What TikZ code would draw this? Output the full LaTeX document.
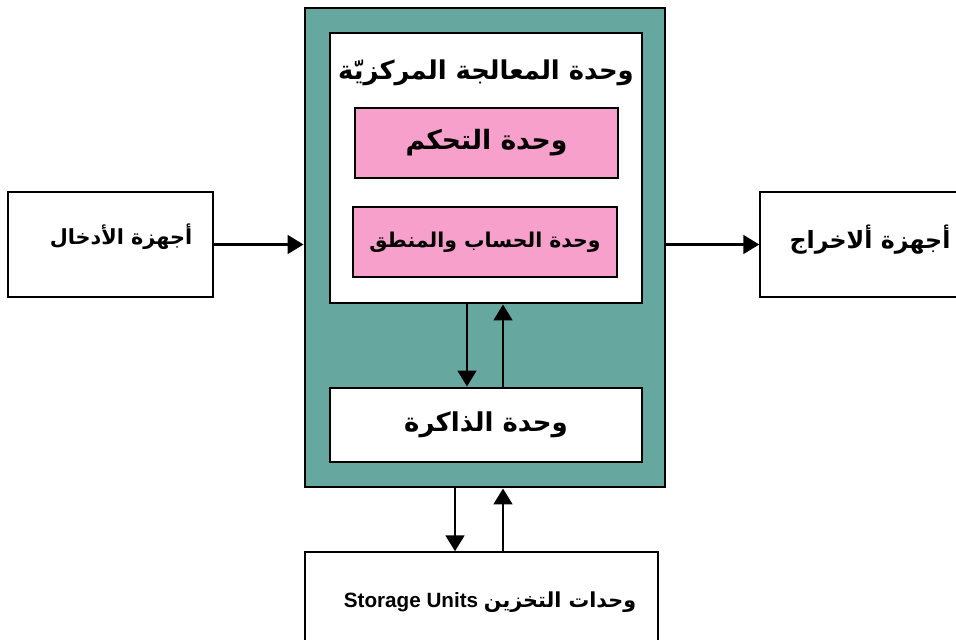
\documentclass[tikz,border=0pt]{standalone}
\usepackage{fontspec}
\usepackage{tikz}
\usetikzlibrary{arrows.meta}
\usetikzlibrary{positioning}
\setmainfont{Liberation Sans}
\newfontfamily\arabicfont[Script=Arabic]{DejaVu Sans}
\TeXXeTstate=1
\definecolor{cputeal}{RGB}{102,168,160}
\definecolor{unitpink}{RGB}{247,160,204}

\tikzset{
    thinbox/.style={draw, line width=1.1pt, fill=white, inner sep=0pt},
    thickbox/.style={draw, line width=2.2pt, inner sep=0pt},
    unitbox/.style={thickbox, line width=1.9pt, fill=unitpink, font=\arabicfont\bfseries\fontsize{20}{24}\selectfont},
    flow/.style={line width=2.2pt, -{Triangle[length=12pt,width=14pt]}}
}

\begin{document}
\begin{tikzpicture}[x=0.75pt,y=0.75pt,yscale=-1]
    \useasboundingbox (0,0) rectangle (956,639);
    \clip (0,0) rectangle (956,639);

    %Shape: Rectangle [outer teal box]
    \node (outer) [thickbox, fill=cputeal, minimum width=270pt, minimum height=359.25pt] at (485,247.5) {};
    %Shape: Rectangle [cpu]
    \node (cpu) [thickbox, fill=white, minimum width=234pt, minimum height=202.5pt] at (486,168) {};
    % Text Node
    \node (cputitle) [font=\arabicfont\bfseries\fontsize{19.4}{23}\selectfont] at (486,73) {\beginR وحدة المعالجة المركزيّة\endR};
    %Shape: Rectangle [control unit]
    \node (ctrl) [unitbox, minimum width=197.25pt, minimum height=52.5pt] at (486.5,143) {\beginR وحدة التحكم\endR};
    %Shape: Rectangle [alu]
    \node (alu) [unitbox, minimum width=198pt, minimum height=52.5pt, font=\arabicfont\bfseries\fontsize{15.3}{18}\selectfont] at (485,242) {\beginR وحدة الحساب والمنطق\endR};
    %Shape: Rectangle [memory]
    \node (mem) [thickbox, fill=white, minimum width=234pt, minimum height=55.5pt, font=\arabicfont\bfseries\fontsize{19.5}{23}\selectfont] at (486,425) {\beginR وحدة الذاكرة\endR};

    %Shape: Rectangle [input devices]
    \node (inbox) [thinbox, minimum width=153.75pt, minimum height=78.75pt] at (110.5,244.5) {};
    % Text Node
    \node (intxt) [font=\arabicfont\bfseries\fontsize{15.6}{18}\selectfont] at (121,237) {\beginR أجهزة الأدخال\endR};
    %Shape: Rectangle [output devices]
    \node (outbox) [thinbox, minimum width=168.75pt, minimum height=78.75pt] at (872.5,244.5) {};
    % Text Node
    \node (outtxt) [font=\arabicfont\bfseries\fontsize{17.8}{20}\selectfont] at (870,240) {\beginR أجهزة ألاخراج\endR};
    %Shape: Rectangle [storage]
    \node (store) [thinbox, minimum width=264.75pt, minimum height=111pt] at (481.5,626) {};
    % Text Node
    \node (storetxt) [font=\bfseries\fontsize{15.5}{18}\selectfont] at (490,602) {\beginR{\arabicfont وحدات التخزين} \beginL Storage Units\endL\endR};

    %Straight Lines
    \draw [flow] (inbox.east) -- (inbox.east -| outer.west);
    \draw [flow] (outer.east |- outbox.west) -- (outbox.west);
    \draw [flow] ([xshift=-14.25pt]cpu.south) coordinate (cpudown) -- (cpudown |- mem.north);
    \draw [flow] ([xshift=12.75pt]mem.north) coordinate (memup) -- (memup |- cpu.south);
    \draw [flow] ([xshift=-22.5pt]outer.south) coordinate (storedown) -- (storedown |- store.north);
    \draw [flow] ([xshift=13.5pt]outer.south |- store.north) coordinate (storeup) -- (storeup |- outer.south);
\end{tikzpicture}
\end{document}
